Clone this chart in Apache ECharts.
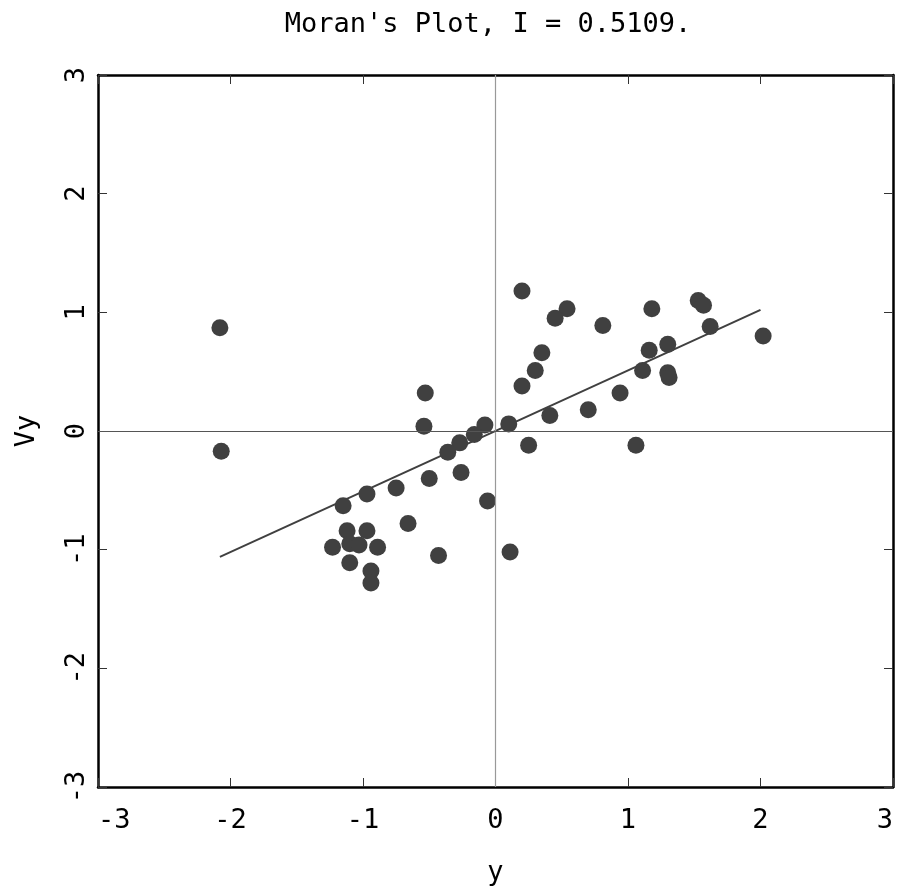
<!DOCTYPE html>
<html>
<head>
<meta charset="utf-8">
<script src="https://cdn.jsdelivr.net/npm/echarts@6/dist/echarts.min.js"></script>
<style>
html,body{margin:0;padding:0;background:#fff;}
#chart{width:906px;height:891px;}
</style>
</head>
<body>
<div id="chart"></div>
<script>
// standardized variable y and its spatial lag Vy
const yValues = [
  -2.08, -2.07, -0.53, -0.54, -0.08, 0.10, -0.16, -0.27, -0.36, -0.26,
  -0.50, -0.75, -0.97, -1.15, -0.06, -0.66, -1.12, -0.97, -1.23, -1.10,
  -1.03, -0.89, -1.10, -0.94, -0.94, -0.43, 0.11, 0.20, 0.54, 0.45,
  0.81, 1.18, 1.53, 1.57, 1.62, 2.02, 0.35, 0.30, 0.20, 1.16,
  1.30, 1.11, 1.30, 1.31, 0.94, 0.70, 0.41, 0.25, 1.06
];
const vyValues = [
  0.87, -0.17, 0.32, 0.04, 0.05, 0.06, -0.03, -0.10, -0.18, -0.35,
  -0.40, -0.48, -0.53, -0.63, -0.59, -0.78, -0.84, -0.84, -0.98, -0.95,
  -0.96, -0.98, -1.11, -1.18, -1.28, -1.05, -1.02, 1.18, 1.03, 0.95,
  0.89, 1.03, 1.10, 1.06, 0.88, 0.80, 0.66, 0.51, 0.38, 0.68,
  0.73, 0.51, 0.49, 0.45, 0.32, 0.18, 0.13, -0.12, -0.12
];
// regression line (slope = Moran's I) endpoints
const fitX = [-2.08, 2.00];
const fitY = [-1.06, 1.02];
const axisTicks = [-3, -2, -1, 0, 1, 2, 3];
const titleText = "Moran's Plot, I = 0.5109.";
const xName = 'y';
const yName = 'Vy';

const FONT = 'DejaVu Sans Mono';
const points = yValues.map((v, i) => [v, vyValues[i]]);
const fitLine = fitX.map((v, i) => [v, fitY[i]]);
const fmt = v => (v < 0 ? '-' + Math.abs(v) : String(v));

const chart = echarts.init(document.getElementById('chart'));
const baseAxis = {
  type: 'value', min: axisTicks[0], max: axisTicks[axisTicks.length - 1], interval: 1,
  splitLine: {show: false},
  axisLine: {show: true, onZero: false, lineStyle: {color: '#000', width: 2.5}},
  axisTick: {show: true, inside: true, length: 9, lineStyle: {color: '#333', width: 1}}
};
chart.setOption({
  animation: false,
  backgroundColor: '#fff',
  title: {
    text: titleText, left: 488, top: 11, padding: 0, textAlign: 'center',
    textStyle: {fontFamily: FONT, fontSize: 27, fontWeight: 'normal', color: '#000'}
  },
  grid: {left: 98, top: 75, width: 795, height: 713},
  xAxis: [
    Object.assign({}, baseAxis, {
      position: 'bottom', name: xName, nameLocation: 'middle', nameGap: 72,
      nameTextStyle: {fontFamily: FONT, fontSize: 27, color: '#000'},
      axisLabel: {fontFamily: FONT, fontSize: 27, color: '#000', margin: 20,
        alignMinLabel: 'left', alignMaxLabel: 'right', formatter: fmt}
    }),
    Object.assign({}, baseAxis, {position: 'top', axisLabel: {show: false}})
  ],
  yAxis: [
    Object.assign({}, baseAxis, {
      position: 'left', name: yName, nameLocation: 'middle', nameGap: 58, nameRotate: 90,
      nameTextStyle: {fontFamily: FONT, fontSize: 27, color: '#000'},
      axisLabel: {fontFamily: FONT, fontSize: 27, color: '#000', margin: 8, rotate: 90,
        formatter: fmt}
    }),
    Object.assign({}, baseAxis, {position: 'right', axisLabel: {show: false}})
  ],
  series: [
    {
      type: 'line', data: [], z: 1, silent: true,
      markLine: {
        silent: true, symbol: 'none', label: {show: false},
        data: [
          {xAxis: 0, lineStyle: {color: '#999', width: 1.2, type: 'solid'}},
          {yAxis: 0, lineStyle: {color: '#555', width: 1.2, type: 'solid'}}
        ]
      }
    },
    {
      type: 'line', data: fitLine, z: 2, symbol: 'none', silent: true,
      lineStyle: {color: '#404040', width: 2}
    },
    {
      type: 'scatter', data: points, z: 3, symbol: 'circle', symbolSize: 17,
      itemStyle: {color: '#404040', opacity: 1}
    }
  ]
});
</script>
</body>
</html>
